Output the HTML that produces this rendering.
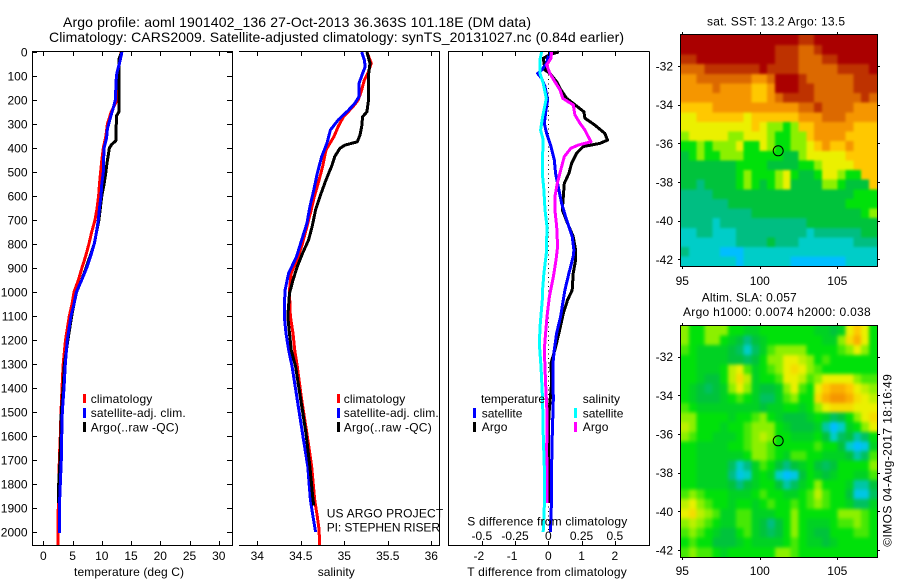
<!DOCTYPE html>
<html>
<head>
<meta charset="utf-8">
<title>Argo profile</title>
<style>
html,body{margin:0;padding:0;background:#fff;}
svg{display:block;}
text{font-family:"Liberation Sans",sans-serif;font-size:12px;fill:#000;}
.title{font-size:14px;}
.frame{stroke:#000;stroke-width:1;fill:none;shape-rendering:crispEdges;}
.swatch{shape-rendering:crispEdges;}
</style>
</head>
<body>
<svg id="chart" xmlns="http://www.w3.org/2000/svg" width="900" height="580" viewBox="0 0 900 580">
  <defs>
    <clipPath id="sst-clip"><rect x="681" y="35" width="197" height="231"/></clipPath>
    <clipPath id="sla-clip"><rect x="681" y="326" width="197" height="231"/></clipPath>
    <filter id="sst-smooth" filterUnits="userSpaceOnUse" x="650" y="10" width="250" height="280" color-interpolation-filters="sRGB">
      <feGaussianBlur stdDeviation="1.3"/>
    </filter>
    <filter id="sla-smooth" filterUnits="userSpaceOnUse" x="650" y="300" width="250" height="280" color-interpolation-filters="sRGB">
      <feGaussianBlur stdDeviation="1.9"/>
    </filter>
  </defs>
  <rect width="900" height="580" fill="#fff"/>

  <text class="title" x="63" y="27" textLength="468">Argo profile: aoml 1901402_136 27-Oct-2013 36.363S 101.18E (DM data)</text>
  <text class="title" x="49" y="42" textLength="575">Climatology: CARS2009. Satellite-adjusted climatology: synTS_20131027.nc (0.84d earlier)</text>

  <g id="marks-zero"></g>
  <g id="marks-temp"></g>
  <g id="marks-sal"></g>
  <g id="marks-diff"></g>

  <g>
    <path class="frame" d="M32.5 51.5H232.5V545.5H32.5Z"/>
  </g>
  <g>
    <path class="frame" d="M239 51.5H439.5V545.5H239"/>
  </g>
  <g>
    <path class="frame" d="M649.5 51.5H448.5V545.5H649.5V51.5"/>
  </g>
  <g id="ticks"></g>

  <text x="74" y="576" textLength="110">temperature (deg C)</text>
  <text x="317.7" y="576" textLength="37">salinity</text>
  <text x="467.3" y="576" textLength="159.5">T difference from climatology</text>
  <text x="467.3" y="525.7" textLength="160">S difference from climatology</text>

  <g>
    <rect class="swatch" x="83" y="394" width="3" height="9" fill="#f00"/>
    <text x="90.7" y="403" textLength="61.6">climatology</text>
    <rect class="swatch" x="83" y="408" width="3" height="10" fill="#00f"/>
    <text x="90.7" y="417" textLength="95">satellite-adj. clim.</text>
    <rect class="swatch" x="83" y="422" width="3" height="10" fill="#000"/>
    <text x="90.7" y="431.5" textLength="88">Argo(..raw -QC)</text>
  </g>
  <g>
    <rect class="swatch" x="337" y="394" width="3" height="9" fill="#f00"/>
    <text x="343.7" y="403" textLength="61.6">climatology</text>
    <rect class="swatch" x="337" y="408" width="3" height="10" fill="#00f"/>
    <text x="343.7" y="417" textLength="95">satellite-adj. clim.</text>
    <rect class="swatch" x="337" y="422" width="3" height="10" fill="#000"/>
    <text x="343.7" y="431.5" textLength="88">Argo(..raw -QC)</text>
  </g>
  <text x="326.7" y="517.3" textLength="116.5">US ARGO PROJECT</text>
  <text x="326.7" y="531.7" textLength="113.3">PI: STEPHEN RISER</text>

  <g>
    <text x="481" y="403" textLength="64">temperature</text>
    <rect class="swatch" x="473" y="408" width="3" height="10" fill="#00f"/>
    <text x="481.7" y="417.3" textLength="40.7">satellite</text>
    <rect class="swatch" x="473" y="422" width="3" height="10" fill="#000"/>
    <text x="481.7" y="431" textLength="25.7">Argo</text>
    <text x="582.7" y="403" textLength="37.3">salinity</text>
    <rect class="swatch" x="574" y="408" width="3" height="10" fill="#0ff"/>
    <text x="582.7" y="417.3" textLength="40.7">satellite</text>
    <rect class="swatch" x="574" y="422" width="3" height="10" fill="#f0f"/>
    <text x="582.7" y="431" textLength="25.7">Argo</text>
  </g>

  <text x="707" y="25.7" textLength="138">sat. SST: 13.2 Argo: 13.5</text>
  <g clip-path="url(#sst-clip)">
    <g id="sst-cells" filter="url(#sst-smooth)"></g>
  </g>
  <path class="frame" d="M680.5 34.5H877.5V266.5H680.5Z"/>
  <ellipse cx="778.2" cy="150.8" rx="5" ry="5" fill="none" stroke="#000" stroke-width="1"/>

  <text x="701.7" y="301.7" textLength="95">Altim. SLA: 0.057</text>
  <text x="683" y="316" textLength="187.7">Argo h1000: 0.0074 h2000: 0.038</text>
  <g clip-path="url(#sla-clip)">
    <g id="sla-cells" filter="url(#sla-smooth)"></g>
  </g>
  <path class="frame" d="M680.5 325.5H877.5V557.5H680.5Z"/>
  <ellipse cx="778.2" cy="440.8" rx="5" ry="5" fill="none" stroke="#000" stroke-width="1"/>

  <g id="map-ticks"></g>
  <text transform="translate(891.5 546.7) rotate(-90)" x="0" y="0" textLength="172.5">©IMOS 04-Aug-2017 18:16:49</text>
</svg>

<script>
// ---------- temperature panel values ----------
var tempClimDepth = [0,50,100,200,250,300,350,400,450,500,550,600,650,700,750,800,850,900,950,1000,1050,1100,1200,1300,1400,1500,1600,1700,1800,1900,1950,2054];
var tempClimValue = [13.3,13,12.7,12.6,11.6,10.95,10.7,10.26,10,9.8,9.6,9.46,9.2,8.84,8.27,7.8,7.25,6.6,6,5.25,4.9,4.45,3.8,3.4,3.2,3.03,2.9,2.74,2.68,2.57,2.5,2.5];
var tempSatDepth = [0,50,80,100,200,230,270,320,360,400,450,500,550,600,650,700,750,800,850,900,950,1000,1050,1100,1200,1300,1400,1500,1600,1700,1800,1900,2005];
var tempSatValue = [13.45,13,12.65,12.5,12.3,12,11.5,10.95,10.8,10.4,10.3,10.26,10,9.86,9.6,9.4,9.1,8.7,8.1,7.4,6.56,5.65,5.25,4.73,4.1,3.76,3.54,3.25,3.14,3.08,2.9,2.74,2.74];
var tempArgoDepth = [0,30,100,250,265,340,370,385,400,460,500,550,600,700,800,900,950,1000,1050,1100,1200,1300,1400,1500,1600,1700,1800,1880];
var tempArgoValue = [13.4,12.9,12.9,12.9,12.55,12.4,12.4,11.7,11.3,10.9,10.7,10.4,10,9.5,8.7,7.3,6.55,5.7,5.25,4.85,4.2,3.6,3.4,3.08,3,2.85,2.63,2.62];

// ---------- salinity panel values ----------
var salClimDepth = [0,47,89,117,158,200,228,270,311,353,408,478,533,603,658,728,797,853,922,992,1061,1102,1172,1241,1311,1450,1589,1728,1866,1936,1991,2054];
var salClimValue = [35.26,35.31,35.27,35.23,35.2,35.16,35.1,34.99,34.93,34.88,34.79,34.75,34.71,34.655,34.62,34.57,34.52,34.47,34.39,34.37,34.375,34.38,34.41,34.43,34.46,34.51,34.57,34.625,34.66,34.69,34.71,34.716];
var salSatDepth = [0,33,61,89,130,186,214,242,283,325,381,436,505,575,644,714,783,853,922,992,1061,1102,1172,1241,1311,1450,1589,1728,1866,1936,2000];
var salSatValue = [35.2,35.23,35.24,35.21,35.17,35.17,35.12,35.05,34.93,34.84,34.8,34.74,34.69,34.65,34.605,34.57,34.51,34.45,34.36,34.32,34.31,34.31,34.33,34.36,34.4,34.46,34.52,34.58,34.61,34.64,34.67];
var salArgoDepth = [0,47,89,207,249,270,311,346,374,388,401,436,471,533,603,658,728,783,839,894,950,1006,1102,1172,1241,1311,1450,1589,1728,1866,1890];
var salArgoValue = [35.26,35.295,35.28,35.276,35.26,35.21,35.2,35.18,35.15,35.008,34.95,34.89,34.86,34.79,34.72,34.67,34.63,34.59,34.52,34.46,34.41,34.37,34.35,34.37,34.39,34.44,34.5,34.56,34.605,34.64,34.65];

// ---------- difference panel values ----------
var diffTSatDepth = [0,19,47,75,89,110,144,200,242,297,339,394,450,506,575,630,700,769,825,853,922,992,1033,1102,1172,1241,1297,1450,1589,1728,1866,2000];
var diffTSatValue = [0.08,0,-0.05,-0.2,-0.32,-0.2,-0.1,-0.02,-0.07,-0.12,-0.05,0.08,0.18,0.22,0.32,0.4,0.55,0.72,0.77,0.75,0.62,0.5,0.45,0.37,0.25,0.18,0.14,0.15,0.12,0.1,0.1,0.06];
var diffTArgoDepth = [0,8,26,54,75,89,124,158,193,214,249,276,304,339,367,381,394,422,464,506,547,603,658,714,769,825,867,922,992,1033,1089,1172,1241,1297,1380,1505,1589,1658,1880];
var diffTArgoValue = [0.32,0.1,-0.15,-0.12,-0.1,0.05,0.25,0.38,0.55,0.75,1.07,1.1,1.4,1.7,1.78,1.55,1.05,0.85,0.7,0.62,0.48,0.45,0.42,0.58,0.75,0.82,0.82,0.75,0.72,0.58,0.45,0.32,0.2,0.08,0.1,0.02,0,0.01,0.03];
var diffSSatDepth = [0,33,89,130,193,270,325,367,464,506,575,658,728,839,922,1006,1033,1130,1214,1311,1450,1589,1728,1894,2000];
var diffSSatValue = [-0.05,-0.063,-0.063,-0.038,-0.015,-0.043,-0.058,-0.038,-0.045,-0.045,-0.033,-0.025,-0.01,-0.015,-0.033,-0.045,-0.045,-0.06,-0.068,-0.055,-0.043,-0.038,-0.03,-0.03,-0.038];
var diffSArgoDepth = [0,26,54,89,124,158,193,221,262,297,325,374,388,401,436,478,547,603,658,728,811,867,936,1019,1102,1172,1241,1380,1519,1644,1880];
var diffSArgoValue = [0.025,0.02,-0.012,0.012,0.05,0.088,0.108,0.188,0.2,0.238,0.275,0.32,0.225,0.17,0.12,0.1,0.068,0.05,0.05,0.063,0.07,0.058,0.038,0.008,-0.01,-0.02,-0.03,-0.02,-0.008,-0.012,-0.01];

// ---------- tick values ----------
var depthTicks = [0,100,200,300,400,500,600,700,800,900,1000,1100,1200,1300,1400,1500,1600,1700,1800,1900,2000];
var tempTicks = [0,5,10,15,20,25,30];
var salTicks = [34,34.5,35,35.5,36];
var diffTTicks = [-2,-1,0,1,2];
var diffSTicks = [-0.5,-0.25,0,0.25,0.5];
var mapLonTicks = [95,100,105];
var mapLatTicks = [-32,-34,-36,-38,-40,-42];

// ---------- satellite SST map, colour level per half-degree cell ----------
var sstRow00 = [11,11,11,11,11,11,11,11,11,11,11,11,11,11,11,10,10,11,11,11,11,11,11,11,11];
var sstRow01 = [11,11,11,11,11,11,11,11,11,11,11,11,10,10,10,9,9,10,11,11,11,11,11,11,11];
var sstRow02 = [10,10,11,11,11,11,11,11,11,11,11,11,10,10,10,9,9,9,10,10,11,11,11,11,11];
var sstRow03 = [9,9,9,10,10,10,10,10,10,10,11,10,10,10,10,9,9,9,9,9,10,10,10,10,11];
var sstRow04 = [8,8,9,9,9,9,9,9,9,8,8,9,11,11,11,10,9,9,9,9,9,9,10,10,10];
var sstRow05 = [8,8,8,8,9,8,8,8,8,7,7,8,11,11,11,10,10,9,9,9,9,9,10,10,10];
var sstRow06 = [8,8,8,8,8,8,8,8,8,7,7,8,9,10,10,10,10,9,9,9,9,9,9,10,9];
var sstRow07 = [7,7,7,7,8,8,8,8,8,8,8,8,8,8,8,9,9,10,9,9,9,9,8,8,8];
var sstRow08 = [6,6,7,7,7,7,7,7,6,7,7,7,7,7,7,8,8,8,9,9,9,8,8,8,8];
var sstRow09 = [6,6,6,6,6,6,6,6,6,7,6,5,5,4,5,7,7,8,8,8,8,8,7,7,7];
var sstRow10 = [5,6,6,6,6,6,5,5,6,6,6,5,4,4,5,5,7,8,8,8,8,7,7,7,7];
var sstRow11 = [4,4,5,4,5,5,5,6,4,4,6,5,4,4,5,5,6,7,8,7,7,8,7,7,7];
var sstRow12 = [3,4,5,4,4,5,5,5,4,4,4,4,4,3,3,5,6,6,6,6,6,7,7,7,7];
var sstRow13 = [3,3,3,3,3,3,3,4,4,4,4,3,3,3,3,4,4,5,6,6,6,6,7,7,7];
var sstRow14 = [3,3,3,3,3,3,3,4,5,4,4,4,5,6,4,3,3,4,6,6,5,4,4,7,7];
var sstRow15 = [3,3,2,3,3,3,3,4,5,4,3,4,5,6,3,3,3,3,5,5,4,3,3,3,7];
var sstRow16 = [2,2,2,2,3,3,3,3,3,3,3,3,3,3,3,3,3,3,3,3,3,3,4,4,4];
var sstRow17 = [2,2,2,2,2,2,3,3,3,3,3,3,3,3,3,3,3,3,3,3,3,4,4,4,4];
var sstRow18 = [2,2,2,2,2,2,2,2,2,3,3,3,3,3,3,3,3,3,3,3,3,3,3,4,5];
var sstRow19 = [2,2,2,2,1,2,2,2,2,2,2,2,2,2,2,2,3,3,3,3,3,3,3,3,3];
var sstRow20 = [1,1,2,2,1,1,1,2,2,2,2,2,2,2,2,2,1,2,2,2,2,2,2,3,3];
var sstRow21 = [1,1,1,1,1,1,1,2,2,2,2,3,2,2,2,1,1,1,1,1,1,1,2,2,2];
var sstRow22 = [2,1,1,1,1,0,0,0,1,1,1,1,1,1,1,1,1,1,1,1,1,1,1,1,1];
var sstRow23 = [1,1,1,1,1,1,1,0,1,1,1,1,1,1,0,0,0,0,0,0,0,1,1,1,1];
var sstGrid = [sstRow00,sstRow01,sstRow02,sstRow03,sstRow04,sstRow05,sstRow06,sstRow07,sstRow08,sstRow09,sstRow10,sstRow11,sstRow12,sstRow13,sstRow14,sstRow15,sstRow16,sstRow17,sstRow18,sstRow19,sstRow20,sstRow21,sstRow22,sstRow23];

// ---------- altimeter SLA map, colour level per half-degree cell ----------
var slaRow00 = [5,4,4,5,5,5,4,4,3.5,3.5,4,4,4,4,4,4,4,3.5,3.5,3,3.5,6,7,6,4];
var slaRow01 = [5,4,4,5,5,4,3.5,3,2,3,3.5,4,4,4,4,4,4,4,3.5,3.5,5,6.5,7.5,6,4];
var slaRow02 = [4.5,4,3.5,3.5,3.5,3.5,3,2.5,1,2.5,3.5,4.5,5,5,5,5,4,4,4,4,4.5,5,6,5,4];
var slaRow03 = [4,4,3.5,3.5,3.5,3.5,3,3,2.5,3,4,5,5,6,6,5.5,5,4,4.5,4,4,4,4,4,4];
var slaRow04 = [4,4,3.5,3.5,3.5,4,5.5,6,4.5,3.5,4,4.5,5,6,6.5,6,5,4.5,4,4,4,4,4,4,4];
var slaRow05 = [4,4,3.5,3,3,4,5.5,6.5,5.5,3.5,4,4,4.5,6,6,5.5,4.5,5,6,6,6,6,5,4.5,4.5];
var slaRow06 = [4,3.5,3,2.5,3,3.5,5,6,5,3.5,3,3,3.5,5,6,4.5,4,6,7,7.5,7.5,7,6,5.5,5];
var slaRow07 = [4,3.5,3,3,3,3.5,4,4.5,4,3.5,2.5,2.5,3.5,4.5,5,4,4,6.5,7.5,8,8,7.5,6.5,6,5.5];
var slaRow08 = [4.5,4,3.5,3.5,3.5,3.5,3.5,3.5,3.5,3.5,3,3.5,3.5,4,4,3.5,4,5,6,6.5,6.5,6.5,6,6,6];
var slaRow09 = [5,5,4,4,4,4,3.5,4,4,4.5,5,4,3.5,3,3,3,3.5,4,3.5,2.5,3,4,5,6,6.5];
var slaRow10 = [5.5,5,4,4,4,3.5,4,4,4.5,5,5,5,4,3.5,3,3,3,3.5,1.5,0,1,3.5,4,5,6];
var slaRow11 = [5,4.5,4,4,3.5,3.5,3.5,4,4.5,5,5.5,5,4,4,3.5,3.5,3.5,4,3,1,2.5,3,1.5,2.5,4];
var slaRow12 = [4,4,3.5,3.5,3.5,3.5,4,4,4.5,5,5,4.5,4,4,4,4,4,4.5,4,4,3,1,0,0.5,3.5];
var slaRow13 = [4,4,3.5,3.5,3.5,3.5,3.5,3.5,4,5,5,4.5,4,3.5,4.5,4.5,4,4,3.5,3.5,3.5,3,1.5,2.5,4.5];
var slaRow14 = [4,4,3.5,3.5,3.5,3.5,2.5,1,2,3.5,4.5,4,3,2,3,3.5,4,3,2.5,3,4,4,4,4,5];
var slaRow15 = [4,4,3.5,3.5,3.5,3.5,2,0.5,1,3.5,4,3.5,1,0,0.5,3,4,3.5,3,3.5,4,4,3.5,3.5,4.5];
var slaRow16 = [4,4,3.5,3.5,3.5,3.5,3,2,3,3.5,4,4,3,1.5,2.5,3.5,4,5,4,4,4,3.5,1.5,1.5,3];
var slaRow17 = [4.5,5,4.5,4,4,4,3.5,3.5,3.5,4,4.5,4,4,3.5,3.5,4,4.5,5.5,4.5,4,4,3,0.5,0.5,2.5];
var slaRow18 = [5.5,6,5,4.5,4,4,3.5,4,4,3.5,4,4.5,4,4,4.5,4,4.5,5,4.5,4,4,3.5,2.5,2.5,3.5];
var slaRow19 = [6,6.5,5.5,5,4.5,3.5,3.5,4.5,4.5,3.5,3.5,3.5,4,4,5,4,4,4,4,4,5,5,5,4.5,4];
var slaRow20 = [5,5.5,5,4.5,4,3.5,3.5,4.5,4.5,3.5,3,2,3,4,5,4,3.5,3.5,3.5,4,4.5,4.5,5,4.5,4];
var slaRow21 = [4.5,5,4.5,4,3.5,3,3,4,4.5,3.5,3,2.5,3,4,5,4,3.5,3,3,4,4,4,4.5,4.5,4];
var slaRow22 = [4,4.5,4,4,3,3,3,3.5,4,3.5,3.5,3.5,3.5,4,4.5,4,3.5,3.5,3,3.5,4,4,4,4,4];
var slaRow23 = [4.5,5,4.5,4.5,4,3.5,4,4,4,4,4,4,5,5,4.5,4,4,4,4,4,4,4,4,4,4];
var slaGrid = [slaRow00,slaRow01,slaRow02,slaRow03,slaRow04,slaRow05,slaRow06,slaRow07,slaRow08,slaRow09,slaRow10,slaRow11,slaRow12,slaRow13,slaRow14,slaRow15,slaRow16,slaRow17,slaRow18,slaRow19,slaRow20,slaRow21,slaRow22,slaRow23];

var NS = 'http://www.w3.org/2000/svg';

// axis functions
function yDepth(d){ return 52 + 0.24 * d; }
function xTemp(t){ return 43.3 + 5.85 * t; }
function xSal(s){ return 257.3 + 87 * (s - 34); }
function xDiffT(t){ return 548.3 + 33.25 * t; }
function xDiffS(s){ return 548.3 + 133 * s; }
function xLon(l){ return 682.3 + 15.5 * (l - 95); }
function ySstLat(l){ return 66 + 19.33 * (-32 - l); }
function ySlaLat(l){ return 356.7 + 19.33 * (-32 - l); }

var colourStops = [[0,190,255],[0,205,200],[0,190,130],[0,195,60],[0,225,10],[140,240,0],[235,240,0],[255,200,0],[245,150,0],[220,105,0],[190,50,0],[170,0,0]];
function levelColour(v){
  var c = Math.max(0, Math.min(colourStops.length - 1, v));
  var i = Math.min(colourStops.length - 2, Math.floor(c));
  var f = c - i;
  var a = colourStops[i], b = colourStops[i + 1];
  return 'rgb(' + Math.round(a[0] + (b[0] - a[0]) * f) + ',' + Math.round(a[1] + (b[1] - a[1]) * f) + ',' + Math.round(a[2] + (b[2] - a[2]) * f) + ')';
}

function drawProfile(parentId, depths, values, xFn, colour, name){
  var el = document.createElementNS(NS, 'polyline');
  var pts = [];
  for (var i = 0; i < depths.length && i < values.length; i++) {
    pts.push(xFn(values[i]).toFixed(1) + ',' + yDepth(depths[i]).toFixed(1));
  }
  el.setAttribute('points', pts.join(' '));
  el.setAttribute('fill', 'none');
  el.setAttribute('stroke', colour);
  el.setAttribute('stroke-width', '3');
  el.setAttribute('stroke-linejoin', 'round');
  el.setAttribute('shape-rendering', 'crispEdges');
  
  
  document.getElementById(parentId).appendChild(el);
}

function drawTick(parentId, x1, y1, x2, y2){
  var el = document.createElementNS(NS, 'line');
  el.setAttribute('x1', x1);
  el.setAttribute('y1', y1);
  el.setAttribute('x2', x2);
  el.setAttribute('y2', y2);
  el.setAttribute('stroke', '#000');
  el.setAttribute('stroke-width', '1');
  el.setAttribute('shape-rendering', 'crispEdges');
  
  
  document.getElementById(parentId).appendChild(el);
}

function drawLabel(parentId, x, y, str, anchor){
  var el = document.createElementNS(NS, 'text');
  el.setAttribute('x', x);
  el.setAttribute('y', y);
  el.setAttribute('text-anchor', anchor);
  el.textContent = str;
  
  
  document.getElementById(parentId).appendChild(el);
}

function drawXAxis(ticks, xFn, bottomLabelY){
  ticks.forEach(function(v){
    var x = Math.round(xFn(v)) + 0.5;
    drawTick('ticks', x, 52, x, 56);
    drawTick('ticks', x, 545, x, 541);
    if (bottomLabelY) drawLabel('ticks', xFn(v), bottomLabelY, String(v), 'middle');
  });
}

function drawMap(parentId, grid, yFn){
  var lonStart = 94.92, lonStep = 0.5052, latStart = -30.41, latStep = 0.498;
  var bleed = 10; // outer cells extend past the clip so smoothing does not fade at the frame
  grid.forEach(function(row, r){
    row.forEach(function(level, c){
      var el = document.createElementNS(NS, 'rect');
      var x0 = xLon(lonStart + c * lonStep), x1 = xLon(lonStart + (c + 1) * lonStep);
      var y0 = yFn(latStart - r * latStep), y1 = yFn(latStart - (r + 1) * latStep);
      if (c === 0) x0 -= bleed;
      if (c === row.length - 1) x1 += bleed;
      if (r === 0) y0 -= bleed;
      if (r === grid.length - 1) y1 += bleed;
      el.setAttribute('x', x0.toFixed(1));
      el.setAttribute('y', y0.toFixed(1));
      el.setAttribute('width', (x1 - x0 + 0.6).toFixed(1));
      el.setAttribute('height', (y1 - y0 + 0.6).toFixed(1));
      el.setAttribute('fill', levelColour(level));
      el.setAttribute('shape-rendering', 'crispEdges');
      
      
      document.getElementById(parentId).appendChild(el);
    });
  });
}

function drawMapAxes(yFn, top, bottom, xLabelY){
  mapLonTicks.forEach(function(v){
    var x = Math.round(xLon(v)) + 0.5;
    drawTick('map-ticks', x, top - 2.5, x, top);
    drawTick('map-ticks', x, bottom, x, bottom + 2.5);
    drawLabel('map-ticks', xLon(v), xLabelY, String(v), 'middle');
  });
  mapLatTicks.forEach(function(v){
    var y = Math.round(yFn(v)) + 0.5;
    drawTick('map-ticks', 678, y, 680.5, y);
    drawTick('map-ticks', 877.5, y, 880, y);
    drawLabel('map-ticks', 673, yFn(v) + 4.5, String(v), 'end');
  });
}

// temperature panel
drawProfile('marks-temp', tempClimDepth, tempClimValue, xTemp, '#ff0000', 'temperature-climatology-line');
drawProfile('marks-temp', tempArgoDepth, tempArgoValue, xTemp, '#000000', 'temperature-argo-line');
drawProfile('marks-temp', tempSatDepth, tempSatValue, xTemp, '#0000ff', 'temperature-satellite-line');

// salinity panel
drawProfile('marks-sal', salClimDepth, salClimValue, xSal, '#ff0000', 'salinity-climatology-line');
drawProfile('marks-sal', salSatDepth, salSatValue, xSal, '#0000ff', 'salinity-satellite-line');
drawProfile('marks-sal', salArgoDepth, salArgoValue, xSal, '#000000', 'salinity-argo-line');

// difference panel
var zeroLine = document.createElementNS(NS, 'line');
zeroLine.setAttribute('x1', xDiffT(0));
zeroLine.setAttribute('x2', xDiffT(0));
zeroLine.setAttribute('y1', yDepth(0));
zeroLine.setAttribute('y2', yDepth(2005));
zeroLine.setAttribute('stroke', '#000');
zeroLine.setAttribute('stroke-width', '1');
zeroLine.setAttribute('stroke-dasharray', '1 3.5');
zeroLine.setAttribute('shape-rendering', 'crispEdges');


document.getElementById('marks-zero').appendChild(zeroLine);
drawProfile('marks-diff', diffTArgoDepth, diffTArgoValue, xDiffT, '#000000', 't-difference-argo-line');
drawProfile('marks-diff', diffTSatDepth, diffTSatValue, xDiffT, '#0000ff', 't-difference-satellite-line');
drawProfile('marks-diff', diffSArgoDepth, diffSArgoValue, xDiffS, '#ff00ff', 's-difference-argo-line');
drawProfile('marks-diff', diffSSatDepth, diffSSatValue, xDiffS, '#00ffff', 's-difference-satellite-line');

// axes
depthTicks.forEach(function(d){
  var y = Math.round(yDepth(d)) + 0.5;
  drawTick('ticks', 32.5, y, 37, y);
  drawTick('ticks', 232.5, y, 227, y);
  drawLabel('ticks', 27.5, yDepth(d) + 4.5, String(d), 'end');
});
drawXAxis(tempTicks, xTemp, 560);
drawXAxis(salTicks, xSal, 560);
drawXAxis(diffTTicks, xDiffT, 0);
diffTTicks.forEach(function(v){
  drawLabel('ticks', xDiffT(v) - (v < 0 ? 3 : 0), 560, String(v), 'middle');
});
diffSTicks.forEach(function(v){
  drawLabel('ticks', xDiffS(v), 540, String(v), 'middle');
});

// maps
drawMap('sst-cells', sstGrid, ySstLat);
drawMap('sla-cells', slaGrid, ySlaLat);
drawMapAxes(ySstLat, 34.5, 266.5, 285);
drawMapAxes(ySlaLat, 325.5, 557.5, 575);
</script>
</body>
</html>
